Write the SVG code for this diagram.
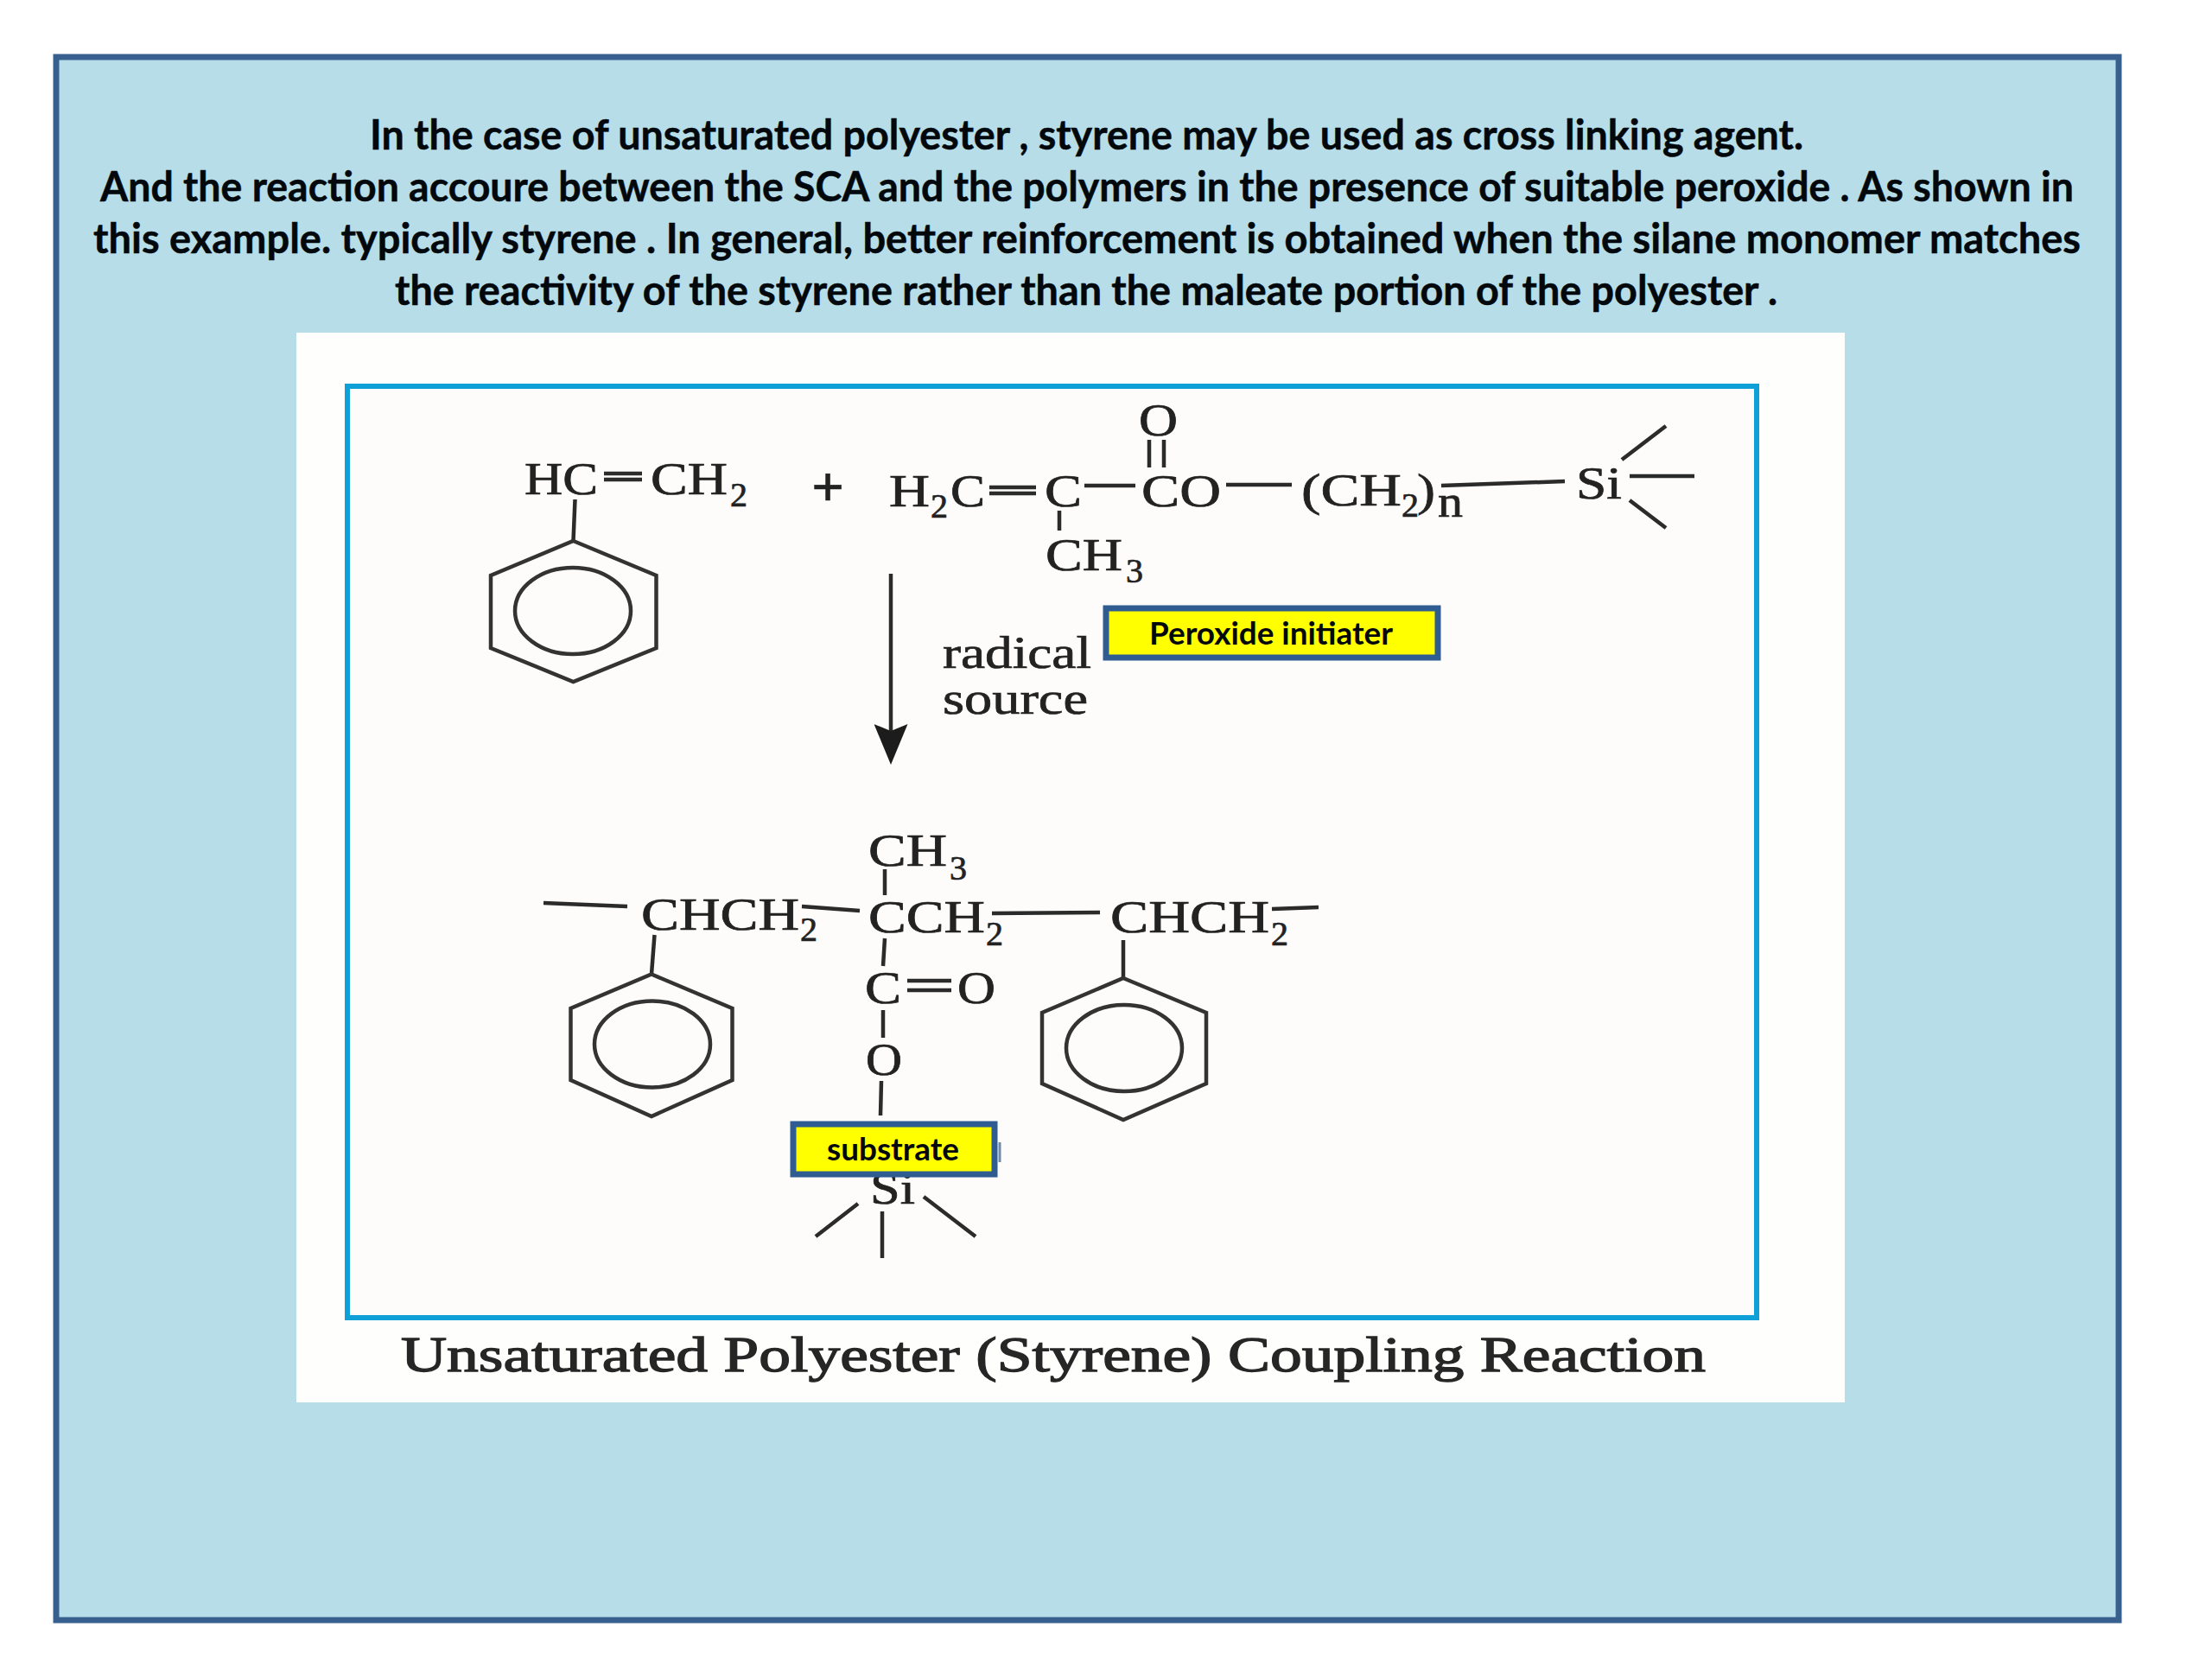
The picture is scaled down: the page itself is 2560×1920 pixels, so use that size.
<svg xmlns="http://www.w3.org/2000/svg" width="2560" height="1920" viewBox="0 0 2560 1920">
<style>
.t{font-family:"Lato","Liberation Sans",sans-serif;font-weight:700;fill:#03080c}
.h{font-size:47px;stroke:#03080c;stroke-width:.5px}
.l{font-size:36px}
.c{font-family:"Liberation Serif","Times New Roman",serif;font-size:52px;fill:#222;stroke:#222;stroke-width:.7px}
.s{font-size:40px}
.b{stroke:#2b2b2b;stroke-width:4.500;fill:none}
.r{stroke:#333;stroke-width:4.500;fill:none}
.y{fill:#ffff00;stroke:#2f5d92;stroke-width:7}
</style>
<defs>
<marker id="down" markerUnits="userSpaceOnUse" markerWidth="39" markerHeight="47" viewBox="0 0 39 47" refX="19.5" refY="8" orient="0">
<path d="M0 0L19.5 8L39 0L19.5 47Z" fill="#1c1c1c"/>
</marker>
</defs>
<rect width="2560" height="1920" fill="#ffffff"/>
<rect id="panel" x="65" y="66" width="2387" height="1809" fill="#b7dee8" stroke="#38608f" stroke-width="7"/>
<g id="paragraph" class="t h">
<text x="428" y="173" textLength="1659" lengthAdjust="spacingAndGlyphs">In the case of unsaturated polyester , styrene may be used as cross linking agent.</text>
<text x="116" y="233" textLength="2284" lengthAdjust="spacingAndGlyphs">And the reaction accoure between the SCA and the polymers in the presence of suitable peroxide . As shown in</text>
<text x="108" y="293" textLength="2300" lengthAdjust="spacingAndGlyphs">this example. typically styrene . In general, better reinforcement is obtained when the silane monomer matches</text>
<text x="457" y="353" textLength="1600" lengthAdjust="spacingAndGlyphs">the reactivity of the styrene rather than the maleate portion of the polyester .</text>
</g>
<rect id="figure" x="343" y="385" width="1792" height="1238" fill="#fefefd"/>
<rect id="frame" x="402" y="447" width="1631" height="1078" fill="#fdfcfa" stroke="#10a0d8" stroke-width="6"/>
<g id="connectors" class="b">
<path d="M699 548H743M699 555H743"/>
<path d="M1145 564H1199M1145 571H1199"/>
<path d="M1255 562H1314"/>
<path d="M1226 591V614"/>
<path d="M1330 509V541M1347 509V541"/>
<path d="M1419 561H1495"/>
<path d="M1668 562L1811 557"/>
<path d="M1877 532L1928 493"/>
<path d="M1886 551H1961"/>
<path d="M1886 579L1928 611"/>
<path d="M665.500 578L663.500 626"/>
<path d="M1024 1006V1036"/>
<path d="M629 1045L726 1049"/>
<path d="M928 1049L995 1054"/>
<path d="M1148 1057L1273 1056"/>
<path d="M1472 1052L1526 1050"/>
<path d="M1024 1086L1022 1118"/>
<path d="M1050 1135H1101M1050 1146H1101"/>
<path d="M1022 1169V1201"/>
<path d="M1020 1251L1019 1291"/>
<path d="M993 1393L944 1431"/>
<path d="M1021 1402V1456"/>
<path d="M1069 1385L1129 1431"/>
<path d="M757.500 1082L754 1127.500"/>
<path d="M1300 1088V1132"/>
<line x1="1031" y1="664" x2="1031" y2="846" marker-end="url(#down)"/>
</g>
<g id="styrene">
<text class="c" x="607" y="572" textLength="85" lengthAdjust="spacingAndGlyphs">HC</text>
<text class="c" x="753" y="572"><tspan textLength="89" lengthAdjust="spacingAndGlyphs">CH</tspan><tspan class="s" x="845" y="586">2</tspan></text>
<path class="r" d="M663.500 626L759.500 666V750L663.500 789L568 750V666Z"/>
<ellipse class="r" cx="663" cy="707" rx="67" ry="50"/>
</g>
<text id="plus" class="c" x="958" y="586" text-anchor="middle" style="font-size:66px;font-weight:700">+</text>
<g id="monomer">
<text class="c" x="1029" y="586"><tspan textLength="47" lengthAdjust="spacingAndGlyphs">H</tspan><tspan class="s" x="1077" y="599">2</tspan><tspan x="1100" y="586" textLength="40" lengthAdjust="spacingAndGlyphs">C</tspan></text>
<text class="c" x="1209" y="586" textLength="43" lengthAdjust="spacingAndGlyphs">C</text>
<text class="c" x="1321" y="586" textLength="92" lengthAdjust="spacingAndGlyphs">CO</text>
<text class="c" x="1318" y="504" textLength="45" lengthAdjust="spacingAndGlyphs">O</text>
<text class="c" x="1210" y="660"><tspan textLength="89" lengthAdjust="spacingAndGlyphs">CH</tspan><tspan class="s" x="1303" y="674">3</tspan></text>
<text class="c" x="1506" y="585"><tspan textLength="116" lengthAdjust="spacingAndGlyphs">(CH</tspan><tspan class="s" x="1622" y="598">2</tspan><tspan x="1640" y="585" textLength="21" lengthAdjust="spacingAndGlyphs">)</tspan><tspan x="1664" y="598" textLength="29" lengthAdjust="spacingAndGlyphs">n</tspan></text>
<text class="c" x="1824" y="577" textLength="53" lengthAdjust="spacingAndGlyphs">Si</text>
</g>
<g id="radical-source">
<text class="c" x="1091" y="773" textLength="172" lengthAdjust="spacingAndGlyphs">radical</text>
<text class="c" x="1091" y="826" textLength="168" lengthAdjust="spacingAndGlyphs">source</text>
</g>
<g id="peroxide">
<rect class="y" x="1280" y="704" width="384" height="57"/>
<text class="t l" x="1330" y="746" textLength="282" lengthAdjust="spacingAndGlyphs">Peroxide initiater</text>
</g>
<g id="product">
<text class="c" x="1005" y="1002"><tspan textLength="91" lengthAdjust="spacingAndGlyphs">CH</tspan><tspan class="s" x="1099" y="1018">3</tspan></text>
<text class="c" x="742" y="1076"><tspan textLength="183" lengthAdjust="spacingAndGlyphs">CHCH</tspan><tspan class="s" x="926" y="1089">2</tspan></text>
<text class="c" x="1005" y="1079"><tspan textLength="135" lengthAdjust="spacingAndGlyphs">CCH</tspan><tspan class="s" x="1141" y="1094">2</tspan></text>
<text class="c" x="1285" y="1079"><tspan textLength="184" lengthAdjust="spacingAndGlyphs">CHCH</tspan><tspan class="s" x="1471" y="1094">2</tspan></text>
<text class="c" x="1001" y="1161" textLength="42" lengthAdjust="spacingAndGlyphs">C</text>
<text class="c" x="1108" y="1161" textLength="44" lengthAdjust="spacingAndGlyphs">O</text>
<text class="c" x="1002" y="1244" textLength="42" lengthAdjust="spacingAndGlyphs">O</text>
<text class="c" x="1007" y="1393" textLength="52" lengthAdjust="spacingAndGlyphs">Si</text>
<path class="r" d="M754 1127.500L847.500 1167V1250L754 1292L660.500 1250V1167Z"/>
<ellipse class="r" cx="755" cy="1208.500" rx="67" ry="50"/>
<path class="r" d="M1300 1132L1396 1172V1254L1300 1296L1206 1254V1172Z"/>
<ellipse class="r" cx="1301" cy="1213" rx="67" ry="50"/>
</g>
<g id="substrate">
<rect class="y" x="918" y="1301" width="233" height="58"/>
<path d="M1157 1322V1345" stroke="#6f8aa6" stroke-width="3"/>
<text class="t l" x="957" y="1343" textLength="153" lengthAdjust="spacingAndGlyphs">substrate</text>
</g>
<text id="caption" x="464" y="1587" textLength="1510" lengthAdjust="spacingAndGlyphs" font-family="Liberation Serif, serif" font-size="56" fill="#262626" stroke="#262626" stroke-width="1.300">Unsaturated Polyester (Styrene) Coupling Reaction</text>
</svg>
